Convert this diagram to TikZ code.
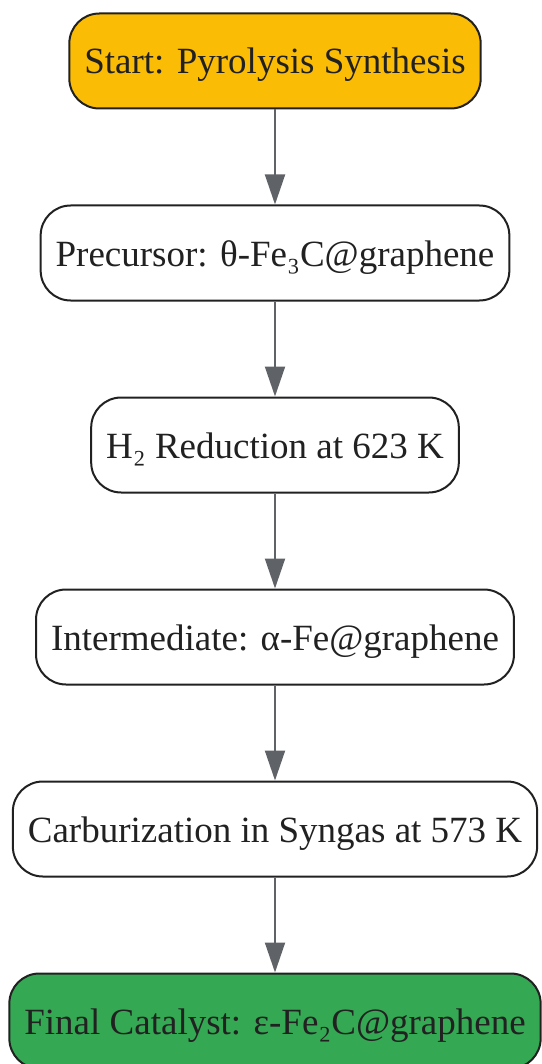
\documentclass[tikz,border=0pt]{standalone}
\usepackage{fontspec}
\setmainfont{Liberation Serif}
\usepackage{xcolor}
\usetikzlibrary{positioning,arrows.meta}

\definecolor{startyellow}{HTML}{FBBC05}
\definecolor{finalgreen}{HTML}{34A853}
\definecolor{arrowgray}{HTML}{5F6368}
\definecolor{edgedark}{HTML}{212121}

\begin{document}
\begin{tikzpicture}[
    x=1pt, y=1pt,
    node distance=95pt,
    stage/.style={rectangle, rounded corners=30pt, draw=edgedark, line width=2pt, fill=white, minimum height=95pt, inner xsep=15pt, text height=26pt, text depth=0pt, font=\fontsize{37}{42}\selectfont, text=edgedark},
    flow/.style={draw=arrowgray, line width=2pt, -{Triangle[length=30pt, width=20pt]}},
]
\useasboundingbox (0,0) rectangle (541,-1064);

\node[stage, fill=startyellow] (start) at (275,-61) {Start: Pyrolysis Synthesis};
\node[stage, below=of start] (precursor) {Precursor: θ-Fe₃C@graphene};
\node[stage, below=of precursor] (reduction) {H₂ Reduction at 623 K};
\node[stage, below=of reduction] (intermediate) {Intermediate: α-Fe@graphene};
\node[stage, below=of intermediate] (carburization) {Carburization in Syngas at 573 K};
\node[stage, fill=finalgreen, below=of carburization] (final) {Final Catalyst: ε-Fe₂C@graphene};

% Connectors
\draw[flow] (start) -- (precursor);
\draw[flow] (precursor) -- (reduction);
\draw[flow] (reduction) -- (intermediate);
\draw[flow] (intermediate) -- (carburization);
\draw[flow] (carburization) -- (final);

\end{tikzpicture}
\end{document}
